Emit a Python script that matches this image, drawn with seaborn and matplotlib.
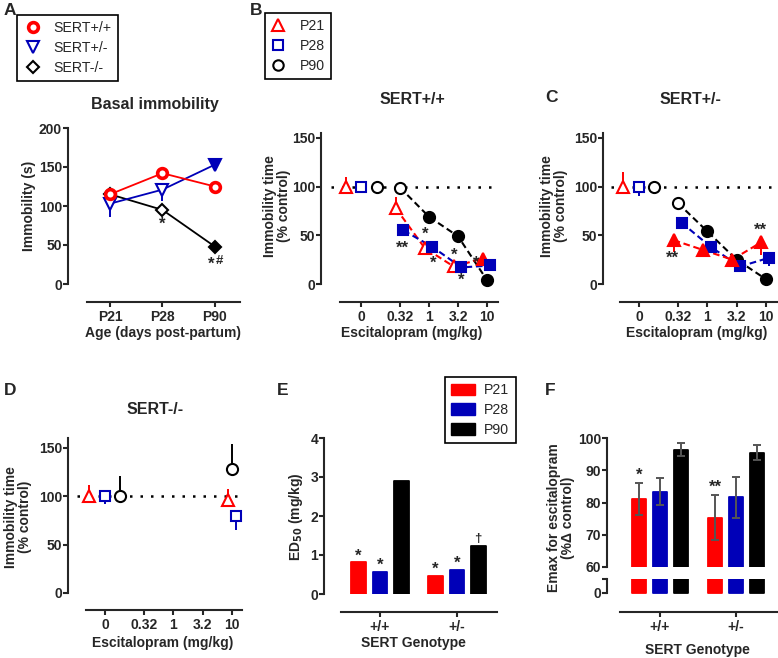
import numpy as np
import pandas as pd
import matplotlib
matplotlib.use("Agg")
import matplotlib.pyplot as plt
import seaborn as sns
from matplotlib.lines import Line2D
from matplotlib.patches import Patch

sns.set_theme(style="ticks")
plt.rcParams["font.family"] = ["Liberation Sans", "DejaVu Sans"]
plt.rcParams["font.weight"] = "bold"
plt.rcParams["axes.linewidth"] = 1.5
plt.rcParams["xtick.major.pad"] = 2.0
plt.rcParams["ytick.major.pad"] = 0.8

RED = "#ff0000"
BLUE = "#0000b8"
BLACK = "#000000"

# ---- A: basal immobility (s); signed error = direction of the Prism bar
ages = ["P21", "P28", "P90"]
basal_wt = [115, 142, 125]
basal_wt_err = [3, 4, -6]
basal_wt_sig = [False, False, False]
basal_het = [103, 121, 153]
basal_het_err = [-17, -15, 3]
basal_het_sig = [False, False, True]
basal_ko = [115, 95, 48]
basal_ko_err = [2, 2, 2]
basal_ko_sig = [False, False, True]

# ---- B-D: immobility, % of control
dose_labels = ["0", "0.32", "1", "3.2", "10"]

wt_p21 = [100, 78, 37, 18, 26]
wt_p21_err = [10, 11, 3, 2, 3]
wt_p21_sig = [False, False, False, False, True]
wt_p28 = [100, 55, 38, 17, 19]
wt_p28_err = [-3, -3, -3, -3, -3]
wt_p28_sig = [False, True, True, True, True]
wt_p90 = [100, 99, 69, 49, 4]
wt_p90_err = [5, 2, 5, 4, 2]
wt_p90_sig = [False, False, True, True, True]

het_p21 = [100, 45, 35, 25, 43]
het_p21_err = [15, -12, -5, -3, -13]
het_p21_sig = [False, True, True, True, True]
het_p28 = [100, 63, 38, 18, 27]
het_p28_err = [-10, -3, -3, -3, -9]
het_p28_sig = [False, True, True, True, True]
het_p90 = [100, 83, 54, 25, 5]
het_p90_err = [2, 2, -4, 2, 2]
het_p90_sig = [False, False, True, True, True]

ko_p21 = [100, np.nan, np.nan, np.nan, 96]
ko_p21_err = [11, 0, 0, 0, 11]
ko_p28 = [100, np.nan, np.nan, np.nan, 80]
ko_p28_err = [-8, 0, 0, 0, -15]
ko_p90 = [100, np.nan, np.nan, np.nan, 128]
ko_p90_err = [21, 0, 0, 0, 26]
ko_sig = [False, False, False, False, False]

# ---- E / F
genotypes = ["+/+", "+/-"]
age_groups = ["P21", "P28", "P90"]
ed50 = {"P21": [0.81, 0.46], "P28": [0.56, 0.61], "P90": [2.9, 1.23]}
emax = {"P21": [81.0, 75.3], "P28": [83.3, 81.6], "P90": [96.3, 95.4]}
emax_err = {"P21": [5.0, 7.0], "P28": [4.2, 6.3], "P90": [2.0, 2.3]}

W, H = 778, 658
fig = plt.figure(figsize=(W / 100, H / 100), dpi=100)
PT = 0.72  # px -> pt
TICK = 10
LAB = 10
TITLE = 11.5
STAR = 12


def px_axes(x0, y0, x1, y1):
    return fig.add_axes([x0 / W, 1 - y1 / H, (x1 - x0) / W, (y1 - y0) / H])


def prism(ax, left_out, bottom_out):
    sns.despine(ax=ax)
    ax.spines["left"].set_position(("outward", left_out * PT))
    ax.spines["bottom"].set_position(("outward", bottom_out * PT))
    ax.tick_params(labelsize=TICK, width=1.5, length=3.5)
    ax.patch.set_alpha(0)
    ax.grid(False)


def ftext(x, y, s, **kw):
    fig.text(x / W, 1 - y / H, s, **kw)


def draw_series(ax, xs, ys, errs, sig, color, marker, ms, mew=1.5):
    for x, y, e, s in zip(xs, ys, errs, sig):
        if np.isnan(y):
            continue
        lo, hi = (0, e) if e > 0 else (-e, 0)
        ax.errorbar(x, y, yerr=[[lo], [hi]], fmt="none", ecolor=color,
                    elinewidth=1.4, capsize=0, zorder=3, clip_on=False)
        ax.plot(x, y, marker=marker, ms=ms, mec=color, mew=mew,
                mfc=color if s else "white", zorder=4, clip_on=False)


def legend(handles, labels, x, y, **kw):
    lg = fig.legend(handles, labels, loc="upper left", bbox_to_anchor=(x / W, 1 - y / H),
                    borderaxespad=0, fancybox=False, framealpha=1, edgecolor="black",
                    prop=dict(size=10.2, weight="normal"), borderpad=0.45,
                    labelspacing=0.4, **kw)
    lg.get_frame().set_linewidth(1.2)


# ================= A
axA = px_axes(87, 128, 240, 284)
xa = np.arange(len(ages))
sns.lineplot(x=xa, y=basal_ko, color=BLACK, lw=1.3, ax=axA, zorder=2)
sns.lineplot(x=xa, y=basal_het, color=BLUE, lw=1.3, ax=axA, zorder=2)
sns.lineplot(x=xa, y=basal_wt, color=RED, lw=1.3, ax=axA, zorder=2)
draw_series(axA, xa, basal_ko, basal_ko_err, basal_ko_sig, BLACK, "D", 6.5)
draw_series(axA, xa, basal_het, basal_het_err, basal_het_sig, BLUE, "v", 8.5)
draw_series(axA, xa, basal_wt, basal_wt_err, basal_wt_sig, RED, "o", 7, mew=2.6)
axA.set_xlim(-0.44, 2.48)
axA.set_ylim(0, 200)
axA.set_xticks(xa, ages)
axA.set_yticks([0, 50, 100, 150, 200])
prism(axA, 19, 18)
axA.text(1, 76, "*", ha="center", va="center", fontsize=STAR)
axA.text(1.93, 25, "*", ha="center", va="center", fontsize=STAR)
axA.text(2.08, 29, "#", ha="center", va="center", fontsize=9.5)
ftext(155, 104, "Basal immobility", ha="center", va="center", fontsize=TITLE)
ftext(29, 206, "Immobility (s)", ha="center", va="center", rotation=90, fontsize=LAB)
ftext(163, 333, "Age (days post-partum)", ha="center", va="center", fontsize=LAB)

legend([Line2D([], [], ls="none", marker="o", ms=7, mew=2.6, mec=RED, mfc="white"),
        Line2D([], [], ls="none", marker="v", ms=8, mew=1.5, mec=BLUE, mfc="white"),
        Line2D([], [], ls="none", marker="D", ms=6, mew=1.5, mec=BLACK, mfc="white")],
       ["SERT+/+", "SERT+/-", "SERT-/-"], 17, 15, handlelength=1.3, handletextpad=0.8)

# ================= dose-response panels
dose_x = [-1.33, 0, 1, 2, 3]
ctrl_shift = {"P21": -0.55, "P28": 0.0, "P90": 0.52}
dose_shift = {"P21": -0.15, "P28": 0.12, "P90": 0.0}


def dose_positions(age):
    return [dose_x[0] + ctrl_shift[age]] + [p + dose_shift[age] for p in dose_x[1:]]


def dose_panel(ax, series, lines, xlim, ylim):
    ax.hlines(100, xlim[0] - 0.32, xlim[1], colors=BLACK, lw=1.8,
              linestyles=(0, (1, 3.2)), zorder=1, clip_on=False)
    for age, ys, errs, sig, color, marker, ms in series:
        xs = dose_positions(age)
        if lines:
            sns.lineplot(x=xs[1:], y=ys[1:], color=color, lw=1.5, ax=ax,
                         linestyle=(0, (3.2, 1.8)), zorder=2)
        draw_series(ax, xs, ys, errs, sig, color, marker, ms)
    ax.set_xlim(*xlim)
    ax.set_ylim(*ylim)
    ax.set_xticks(dose_x, dose_labels)
    ax.set_yticks([0, 50, 100, 150])


axB = px_axes(340, 133, 498, 284)
dose_panel(axB, [("P90", wt_p90, wt_p90_err, wt_p90_sig, BLACK, "o", 8),
                 ("P21", wt_p21, wt_p21_err, wt_p21_sig, RED, "^", 8.5),
                 ("P28", wt_p28, wt_p28_err, wt_p28_sig, BLUE, "s", 7.5)],
           True, (-2.07, 3.38), (0, 155))
prism(axB, 19, 18)
for x, y, s in [(0.07, 37, "**"), (0.86, 51, "*"), (1.14, 21, "*"),
                (1.86, 29, "*"), (2.1, 4, "*"), (2.62, 21, "*")]:
    axB.text(x, y, s, ha="center", va="center", fontsize=STAR)
ftext(412, 100, "SERT+/+", ha="center", va="center", fontsize=TITLE)
ftext(277, 206, "Immobility time\n(% control)", ha="center", va="center",
      rotation=90, fontsize=LAB, linespacing=1.05)
ftext(412, 333, "Escitalopram (mg/kg)", ha="center", va="center", fontsize=LAB)

legend([Line2D([], [], ls="none", marker="^", ms=8, mew=1.5, mec=RED, mfc="white"),
        Line2D([], [], ls="none", marker="s", ms=7, mew=1.5, mec=BLUE, mfc="white"),
        Line2D([], [], ls="none", marker="o", ms=7.5, mew=1.5, mec=BLACK, mfc="white")],
       ["P21", "P28", "P90"], 265, 13, handlelength=1.0, handletextpad=1.0)

axC = px_axes(620, 133, 777, 284)
dose_panel(axC, [("P90", het_p90, het_p90_err, het_p90_sig, BLACK, "o", 8),
                 ("P28", het_p28, het_p28_err, het_p28_sig, BLUE, "s", 7.5),
                 ("P21", het_p21, het_p21_err, het_p21_sig, RED, "^", 8.5)],
           True, (-1.98, 3.38), (0, 155))
prism(axC, 17, 18)
axC.text(-0.2, 26, "**", ha="center", va="center", fontsize=STAR)
axC.text(2.8, 55, "**", ha="center", va="center", fontsize=STAR)
ftext(690, 100, "SERT+/-", ha="center", va="center", fontsize=TITLE)
ftext(554, 206, "Immobility time\n(% control)", ha="center", va="center",
      rotation=90, fontsize=LAB, linespacing=1.05)
ftext(697, 333, "Escitalopram (mg/kg)", ha="center", va="center", fontsize=LAB)

axD = px_axes(86, 438, 242, 593)
dose_panel(axD, [("P21", ko_p21, ko_p21_err, ko_sig, RED, "^", 8.5),
                 ("P28", ko_p28, ko_p28_err, ko_sig, BLUE, "s", 7.5),
                 ("P90", ko_p90, ko_p90_err, ko_sig, BLACK, "o", 8)],
           False, (-1.98, 3.34), (0, 160))
prism(axD, 18, 17)
ftext(155, 410, "SERT-/-", ha="center", va="center", fontsize=TITLE)
ftext(18, 517, "Immobility time\n(% control)", ha="center", va="center",
      rotation=90, fontsize=LAB, linespacing=1.05)
ftext(163, 643, "Escitalopram (mg/kg)", ha="center", va="center", fontsize=LAB)

# ================= bars
pal = {"P21": RED, "P28": BLUE, "P90": BLACK}


def long_df(d):
    return pd.DataFrame([(g, a, d[a][i]) for a in age_groups
                         for i, g in enumerate(genotypes)],
                        columns=["genotype", "age", "value"])


def bars(ax, df):
    sns.barplot(data=df, x="genotype", y="value", hue="age", order=genotypes,
                hue_order=age_groups, palette=pal, width=0.83, gap=0.3,
                saturation=1, errorbar=None, legend=False, ax=ax)
    ps = sorted(ax.patches, key=lambda p: p.get_x())
    for p in ps:
        # slightly rounded corners like the Prism export
        p.set_edgecolor(p.get_facecolor())
        p.set_linewidth(1.3)
        p.set_joinstyle("round")
    return ps


axE = px_axes(341, 438, 497, 594)
pE = bars(axE, long_df(ed50))
axE.set_xlim(-0.506, 1.52)
axE.set_ylim(0, 4)
axE.set_yticks([0, 1, 2, 3, 4])
axE.set_xlabel("")
axE.set_ylabel("")
prism(axE, 17, 18)
for p, s in zip(pE, ["*", "*", "", "*", "*", "\u2020"]):
    if s:
        axE.text(p.get_x() + p.get_width() / 2, p.get_height() + 0.17, s,
                 ha="center", va="center", fontsize=STAR if s == "*" else 9.5)
ftext(296, 517, "ED$_{50}$ (mg/kg)", ha="center", va="center", rotation=90, fontsize=LAB)
ftext(413, 643, "SERT Genotype", ha="center", va="center", fontsize=LAB)
legend([Patch(color=pal[a]) for a in age_groups], age_groups, 445, 377,
       handlelength=1.7, handleheight=0.9, handletextpad=0.6)

# F: broken axis
axF = px_axes(620, 438, 777, 567)
pF = bars(axF, long_df(emax))
axF.set_xlim(-0.526, 1.54)
axF.set_ylim(60, 100)
axF.set_yticks([60, 70, 80, 90, 100])
axF.set_xlabel("")
axF.set_ylabel("")
prism(axF, 13, 0)
axF.spines["bottom"].set_visible(False)
axF.tick_params(axis="x", bottom=False, labelbottom=False)
errs = [emax_err[a][i] for i in range(2) for a in age_groups]
for p, e in zip(pF, errs):
    axF.errorbar(p.get_x() + p.get_width() / 2, p.get_height(), yerr=e, fmt="none",
                 ecolor="#555555", elinewidth=1.4, capsize=3, capthick=1.4, zorder=3)
axF.text(pF[0].get_x() + pF[0].get_width() / 2, emax["P21"][0] + errs[0] + 2.3, "*",
         ha="center", va="center", fontsize=STAR)
axF.text(pF[3].get_x() + pF[3].get_width() / 2, emax["P21"][1] + errs[3] + 2.3, "**",
         ha="center", va="center", fontsize=STAR)

axF2 = px_axes(620, 579, 777, 595)
bars(axF2, long_df(emax))
axF2.set_xlim(-0.526, 1.54)
axF2.set_ylim(-1, 7)
axF2.set_xlabel("")
axF2.set_ylabel("")
prism(axF2, 13, 17)
axF2.spines["left"].set_bounds(0, 7)
axF2.set_yticks([0, 7], ["0", ""])
axF2.set_xticks([0, 1], genotypes)
ftext(561, 518, "Emax for escitalopram\n(%\u0394 control)", ha="center", va="center",
      rotation=90, fontsize=LAB, linespacing=1.05)
ftext(697, 650, "SERT Genotype", ha="center", va="center", fontsize=LAB)

# panel letters
for x, y, s in [(4, 3, "A"), (250, 3, "B"), (545, 90, "C"),
                (4, 383, "D"), (277, 383, "E"), (545, 383, "F")]:
    ftext(x, y, s, ha="left", va="top", fontsize=12.5)

fig.savefig("out.png", dpi=100)
